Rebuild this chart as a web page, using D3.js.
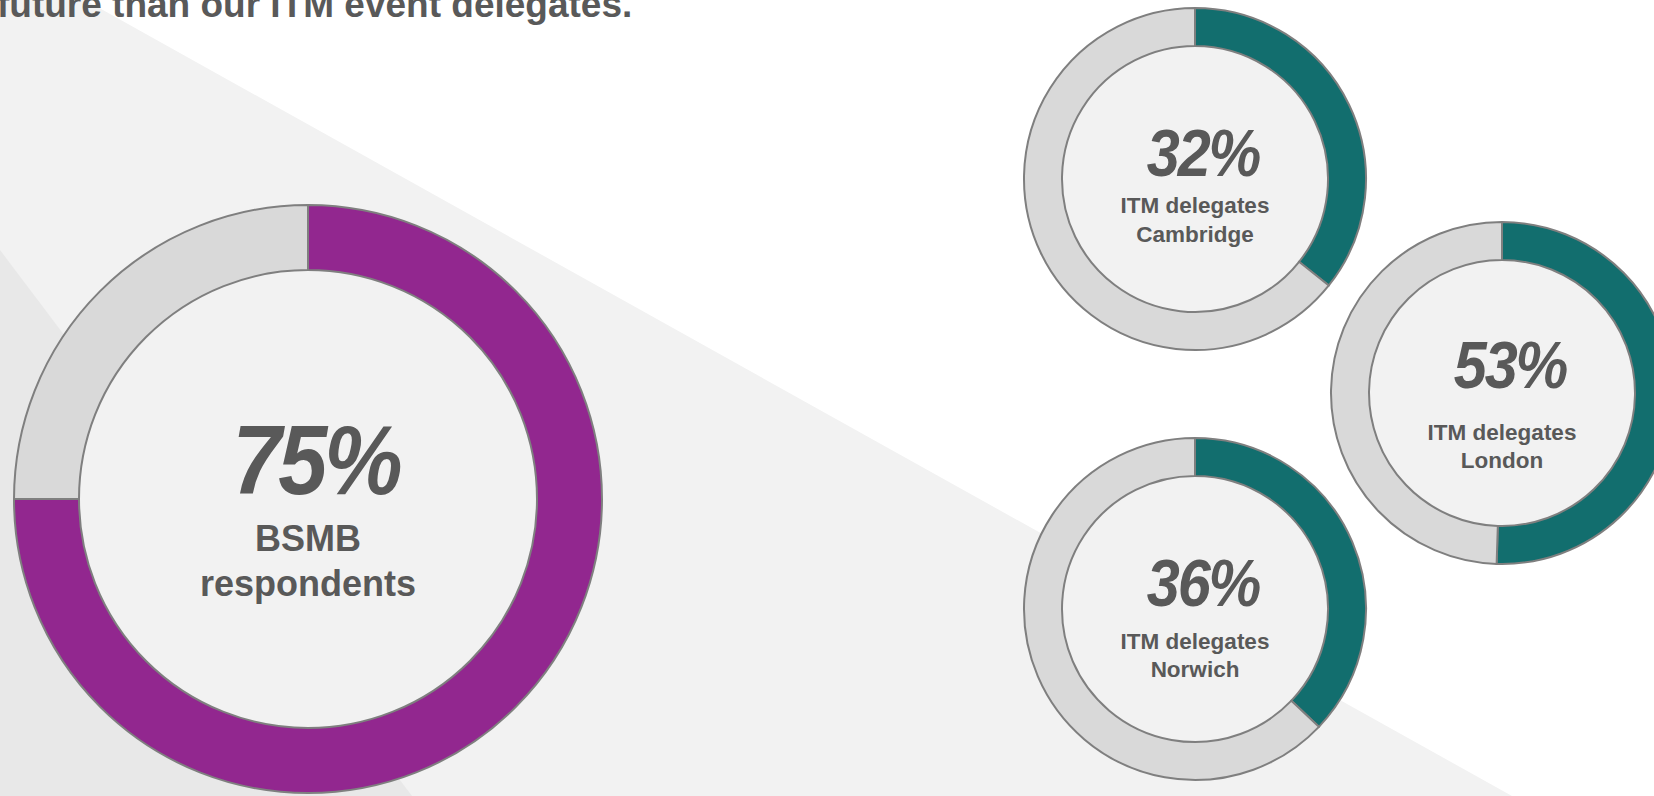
<!DOCTYPE html>
<html>
<head>
<meta charset="utf-8">
<script src="https://cdn.jsdelivr.net/npm/d3@7"></script>
<style>
  html, body { margin: 0; padding: 0; background: #fff; overflow: hidden; }
  svg { display: block; font-family: "Liberation Sans", Arial, sans-serif; }
</style>
</head>
<body>
<svg id="chart" width="1654" height="796"></svg>
<script>
// data
const groups = ['BSMB respondents', 'ITM delegates Cambridge', 'ITM delegates London', 'ITM delegates Norwich'];
const labelLines = [['BSMB', 'respondents'], ['ITM delegates', 'Cambridge'], ['ITM delegates', 'London'], ['ITM delegates', 'Norwich']];
const percentText = [75, 32, 53, 36];
// share of the ring that is coloured, as drawn (not always equal to the printed %)
const ringShare = [75, 35.7, 50.5, 37.1];
const title = 'future than our ITM event delegates.';

// colours
const bsmbColor = '#92278F';
const itmColor = '#126E6E';
const restColor = '#D9D9D9';
const lineColor = '#7F7F7F';
const textColor = '#595959';

// where each ring sits on the page
const layout = [
  { cx: 308, cy: 499, ro: 294, ri: 229, pctSize: 98, pctDy: -5, pctDx: 8, labSize: 36, labDy: [52, 97], color: bsmbColor },
  { cx: 1195, cy: 179, ro: 171, ri: 133, pctSize: 66, pctDy: -3, pctDx: 8, labSize: 22.5, labDy: [34, 63], color: itmColor },
  { cx: 1502, cy: 393, ro: 171, ri: 133, pctSize: 66, pctDy: -5, pctDx: 8, labSize: 22.5, labDy: [47, 75], color: itmColor },
  { cx: 1195, cy: 609, ro: 171, ri: 133, pctSize: 66, pctDy: -3, pctDx: 8, labSize: 22.5, labDy: [40, 68], color: itmColor },
];

const svg = d3.select('#chart');
const W = +svg.attr('width');
const H = +svg.attr('height');

// background: white, light grey slab under a diagonal, darker wedge bottom-left
svg.append('rect').attr('width', W).attr('height', H).attr('fill', '#fff');
svg.append('polygon')
  .attr('points', [[0, 0], [85, 0], [1512, H], [0, H]].join(' '))
  .attr('fill', '#F2F2F2');
svg.append('polygon')
  .attr('points', [[0, 250], [412, H], [0, H]].join(' '))
  .attr('fill', '#E8E8E8');

// cut-off title line at the top
svg.append('text')
  .attr('x', -3)
  .attr('y', 17)
  .attr('fill', textColor)
  .attr('font-weight', 'bold')
  .attr('font-size', 37)
  .text(title);

const pie = d3.pie().sort(null).value((d) => d);

groups.forEach((name, i) => {
  const L = layout[i];
  const g = svg.append('g')
    .attr('class', 'ring')
    .attr('transform', `translate(${L.cx}, ${L.cy})`);

  // hole
  g.append('circle')
    .attr('r', L.ri)
    .attr('fill', '#F2F2F2');

  const arc = d3.arc().innerRadius(L.ri).outerRadius(L.ro);
  g.selectAll('path')
    .data(pie([ringShare[i], 100 - ringShare[i]]))
    .join('path')
    .attr('d', arc)
    .attr('fill', (d, j) => (j === 0 ? L.color : restColor))
    .attr('stroke', lineColor)
    .attr('stroke-width', 2);

  // narrow, tight italic figure
  g.append('text')
    .attr('transform', `translate(${L.pctDx}, ${L.pctDy}) scale(0.9, 1)`)
    .attr('text-anchor', 'middle')
    .attr('fill', textColor)
    .attr('font-weight', 'bold')
    .attr('font-style', 'italic')
    .attr('font-size', L.pctSize)
    .attr('letter-spacing', -L.pctSize * 0.035)
    .text(`${percentText[i]}%`);

  labelLines[i].forEach((line, k) => {
    g.append('text')
      .attr('x', 0)
      .attr('y', L.labDy[k])
      .attr('text-anchor', 'middle')
      .attr('fill', textColor)
      .attr('font-weight', 'bold')
      .attr('font-size', L.labSize)
      .text(line);
  });
});
</script>
</body>
</html>
